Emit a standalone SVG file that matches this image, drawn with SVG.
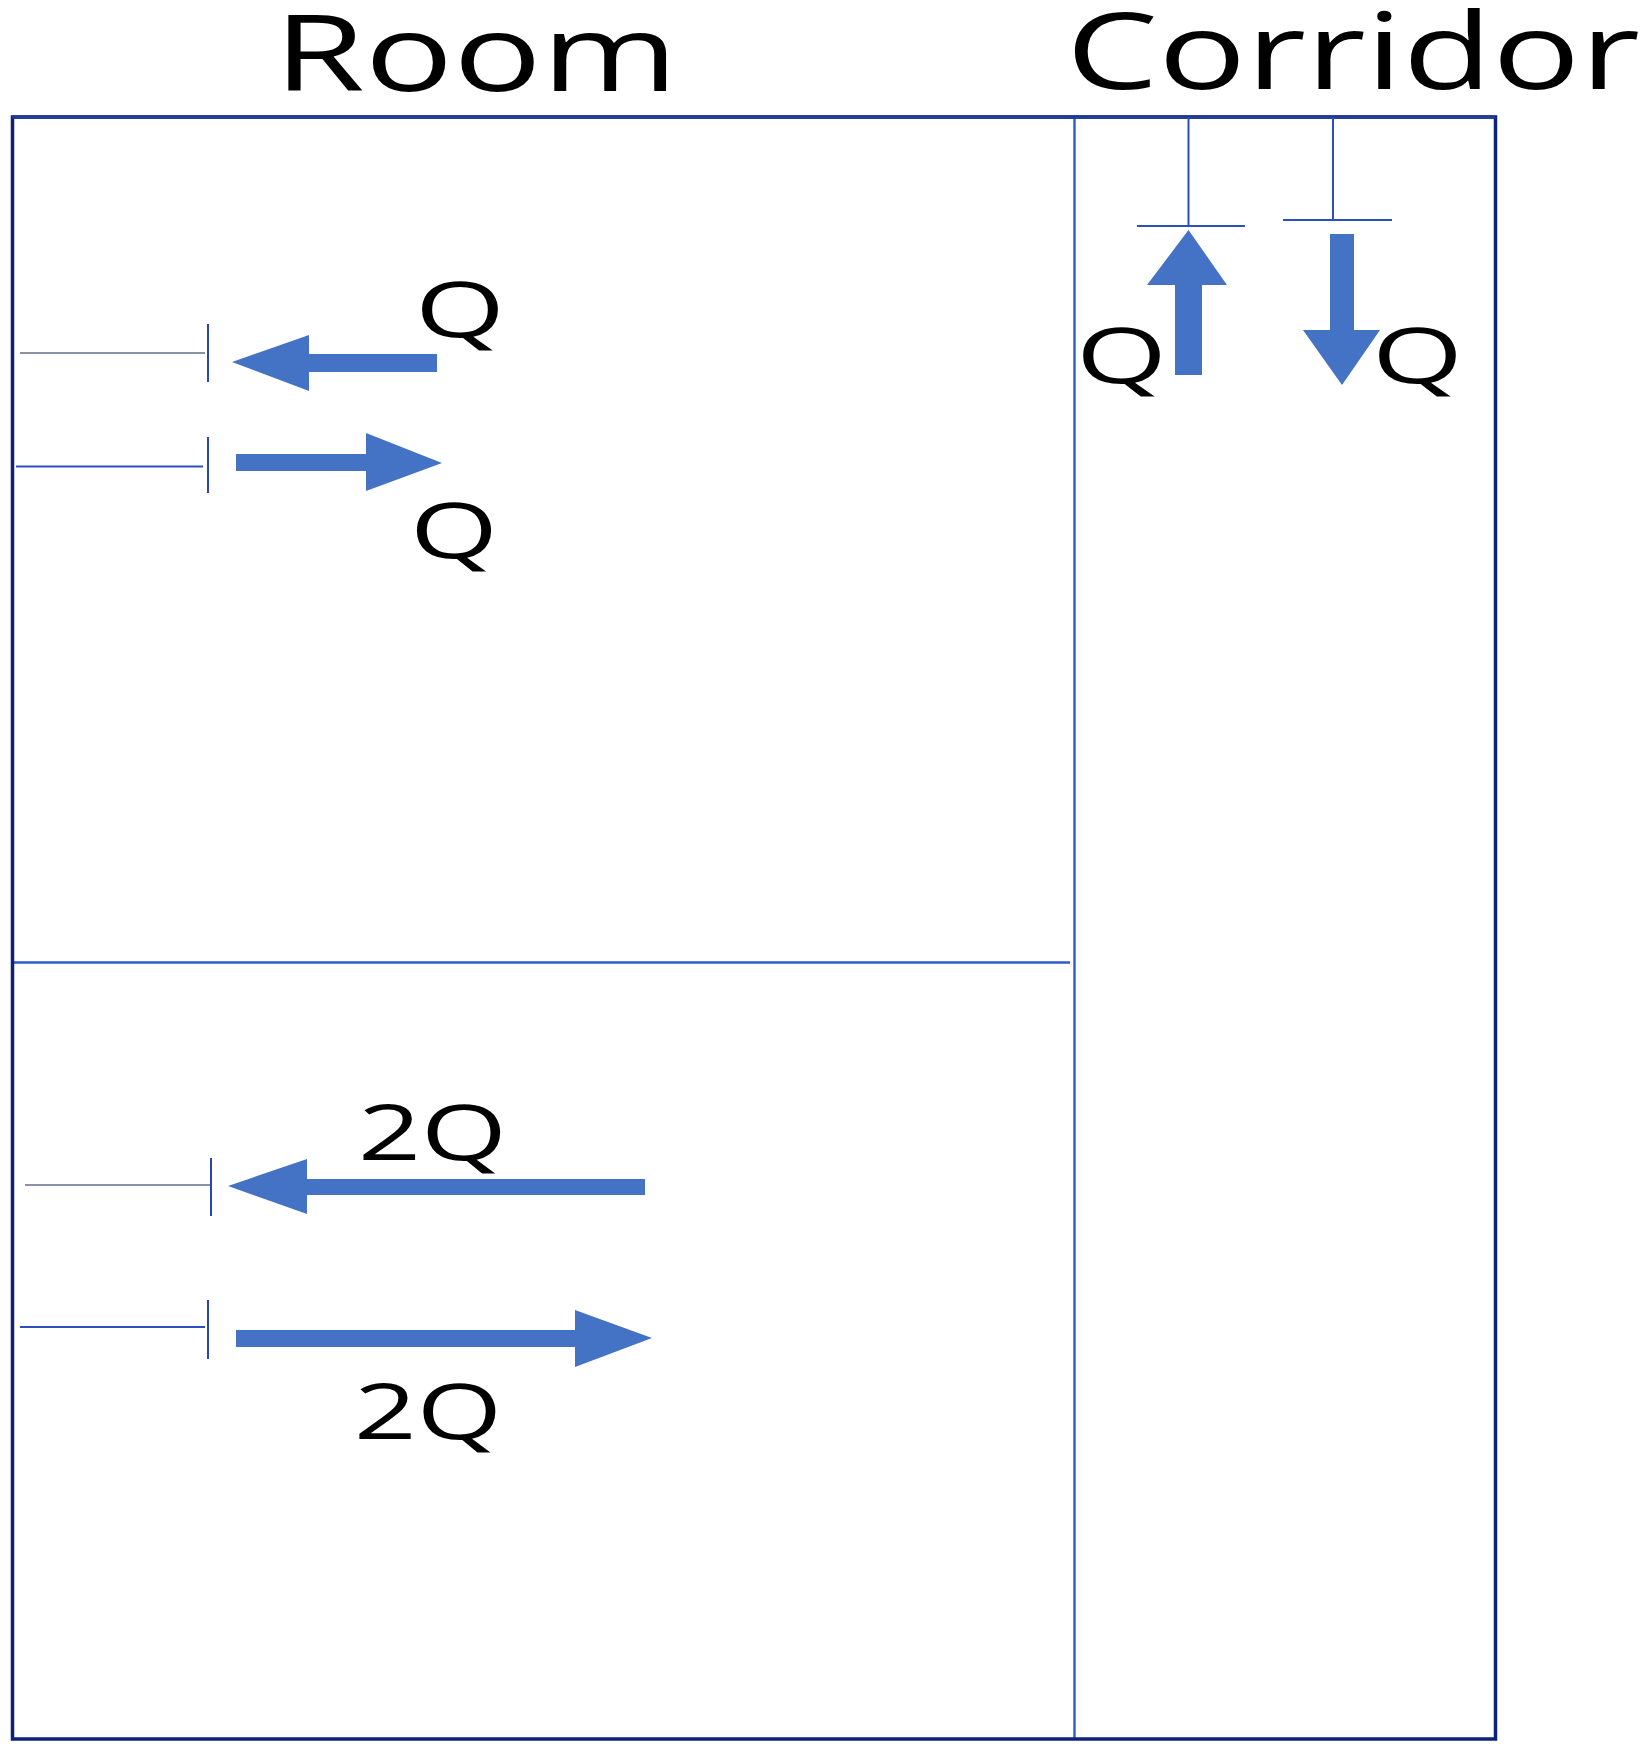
<svg xmlns="http://www.w3.org/2000/svg" width="1650" height="1755" viewBox="0 0 1650 1755">
  <style>
    .lbl { font-family: "Open Sans", "Noto Sans", "Liberation Sans", sans-serif; fill: #000; }
    .wall { fill: none; stroke: #2E5BCB; stroke-width: 2.4; }
    .tick { stroke: #2845B8; stroke-width: 2; fill: none; }
    .gray { stroke: #8A93A5; stroke-width: 2; fill: none; }
    .blue { stroke: #2C4FC0; stroke-width: 2; fill: none; }
    .arr { fill: #4472C4; stroke: none; }
  </style>
  <rect x="0" y="0" width="1650" height="1755" fill="#ffffff"/>

  <g id="titles">
    <text class="lbl" x="274" y="91" font-size="107" textLength="404" lengthAdjust="spacingAndGlyphs">Room</text>
    <text class="lbl" x="1066" y="89" font-size="106" textLength="574" lengthAdjust="spacingAndGlyphs">Corridor</text>
  </g>

  <g id="room-upper">
    <path class="wall" d="M12.5,962.5 H1070"/>
  </g>

  <g id="corridor">
    <path class="wall" d="M1074.5,117 V1739"/>
  </g>

  <g id="outline">
    <rect x="12.5" y="117" width="1483" height="1622" fill="none" stroke="#0E2278" stroke-width="3.5"/>
    <path d="M12.5,117 H1495.5" stroke="#1F3D96" stroke-width="3.5" fill="none"/>
  </g>

  <g id="openings">
    <path class="gray" d="M20,353 H205"/>
    <path class="tick" d="M208,324 V382"/>
    <path class="blue" d="M16,466.5 H203"/>
    <path class="tick" d="M208,437 V493"/>
    <path class="gray" d="M25,1185 H210"/>
    <path class="tick" d="M211,1158 V1216"/>
    <path class="blue" d="M20,1327 H205"/>
    <path class="tick" d="M208,1300 V1359"/>
    <path class="blue" d="M1188.5,117 V226 M1137,226 H1245"/>
    <path class="blue" d="M1333,117 V220 M1283,220 H1392"/>
  </g>

  <g id="connectors">
    <polygon class="arr" points="232,362 309,335 309,354 437,354 437,372 309,372 309,391"/>
    <polygon class="arr" points="442,463 366,433 366,454 236,454 236,471 366,471 366,491"/>
    <polygon class="arr" points="228,1186 307,1159 307,1179 645,1179 645,1195 307,1195 307,1214"/>
    <polygon class="arr" points="652,1338 575,1310 575,1330 236,1330 236,1347 575,1347 575,1367"/>
    <polygon class="arr" points="1188.5,230 1227,285 1202,285 1202,375 1175,375 1175,285 1147,285"/>
    <polygon class="arr" points="1342,385 1303,330 1330,330 1330,234 1354,234 1354,330 1380,330"/>
  </g>

  <g id="labels">
    <text class="lbl" x="415" y="337" font-size="77" textLength="90" lengthAdjust="spacingAndGlyphs">Q</text>
    <text class="lbl" x="410" y="558" font-size="77" textLength="88" lengthAdjust="spacingAndGlyphs">Q</text>
    <text class="lbl" x="1076" y="383" font-size="77" textLength="91" lengthAdjust="spacingAndGlyphs">Q</text>
    <text class="lbl" x="1372" y="383" font-size="77" textLength="91" lengthAdjust="spacingAndGlyphs">Q</text>
    <text class="lbl" x="358" y="1160" font-size="76" textLength="149" lengthAdjust="spacingAndGlyphs">2Q</text>
    <text class="lbl" x="354" y="1439" font-size="76" textLength="148" lengthAdjust="spacingAndGlyphs">2Q</text>
  </g>
</svg>
